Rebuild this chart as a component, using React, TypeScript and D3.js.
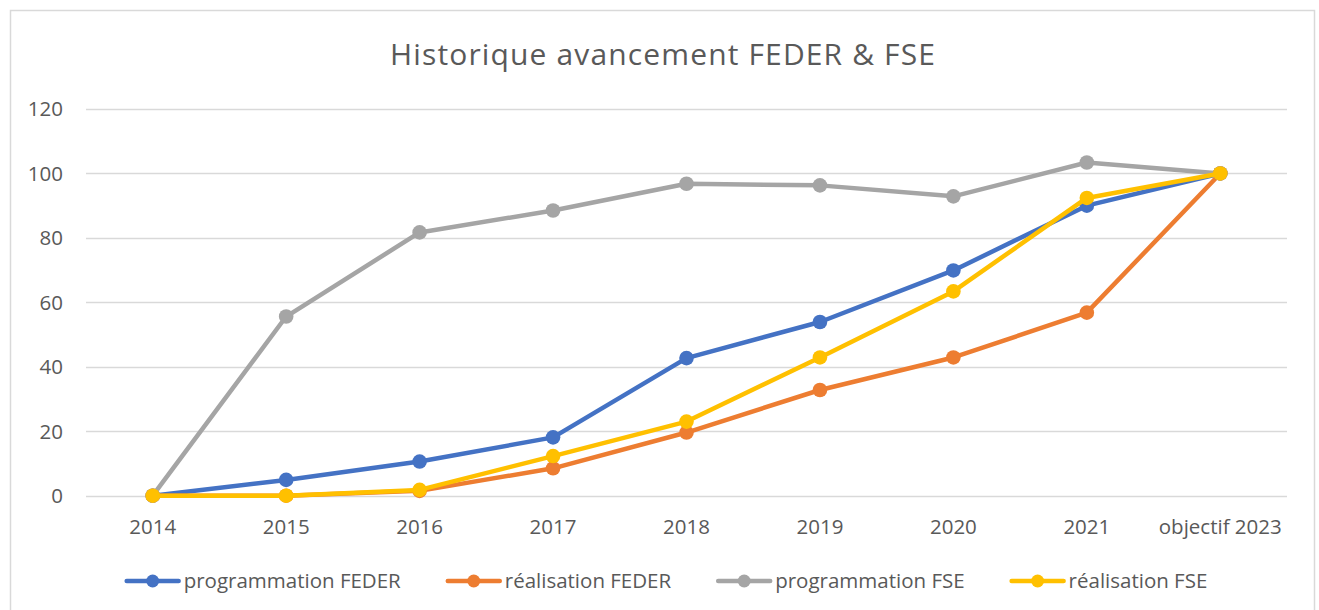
import React, { useEffect, useRef } from 'react';
import * as d3 from 'd3';

const categories = ['2014', '2015', '2016', '2017', '2018', '2019', '2020', '2021', 'objectif 2023'];
const programmationFeder = [0, 4.9, 10.6, 18.1, 42.7, 53.9, 69.9, 90.0, 100];
const realisationFeder = [0, 0, 1.5, 8.5, 19.6, 32.8, 42.9, 56.8, 100];
const programmationFse = [0, 55.6, 81.7, 88.5, 96.8, 96.3, 92.9, 103.4, 100];
const realisationFse = [0, 0, 1.8, 12.3, 23.0, 42.9, 63.4, 92.4, 100];
const yTicks = [0, 20, 40, 60, 80, 100, 120];

const seriesNames = ['programmation FEDER', 'réalisation FEDER', 'programmation FSE', 'réalisation FSE'];
const seriesColors = ['#4472C4', '#ED7D31', '#A5A5A5', '#FFC000'];
const seriesValues = [programmationFeder, realisationFeder, programmationFse, realisationFse];

const W = 1319;
const H = 610;
const FONT = '"Open Sans", sans-serif';
const TEXT = '#595959';

export default function App() {
  const svgRef = useRef<SVGSVGElement | null>(null);

  useEffect(() => {
    document.body.style.margin = '0';
    if (!svgRef.current) return;
    const svg = d3.select(svgRef.current);
    svg.selectAll('*').remove();

    svg.append('rect')
      .attr('x', 0).attr('y', 0).attr('width', W).attr('height', H)
      .attr('fill', '#fff');
    svg.append('rect')
      .attr('x', 10.5).attr('y', 10.5).attr('width', 1304).attr('height', 620)
      .attr('fill', '#fff').attr('stroke', '#D9D9D9').attr('stroke-width', 1.5);

    svg.append('text')
      .attr('x', 662.5).attr('y', 64.5)
      .attr('text-anchor', 'middle')
      .attr('font-family', FONT).attr('font-size', 30)
      .attr('textLength', 545).attr('lengthAdjust', 'spacing')
      .attr('fill', TEXT)
      .text('Historique avancement FEDER & FSE');

    const x = d3.scalePoint<string>().domain(categories).range([86, 1287]).padding(0.5);
    const y = d3.scaleLinear().domain([0, 120]).range([495.7, 109]);

    // gridlines
    svg.append('g')
      .selectAll('line')
      .data(yTicks)
      .enter()
      .append('line')
      .attr('x1', 86).attr('x2', 1287)
      .attr('y1', d => Math.round(y(d)) + 0.5)
      .attr('y2', d => Math.round(y(d)) + 0.5)
      .attr('stroke', '#D9D9D9').attr('stroke-width', 1.5);

    // y labels
    svg.append('g')
      .selectAll('text')
      .data(yTicks)
      .enter()
      .append('text')
      .attr('x', 63)
      .attr('y', d => y(d))
      .attr('dy', '0.36em')
      .attr('text-anchor', 'end')
      .attr('font-family', FONT).attr('font-size', 20.5)
      .attr('fill', TEXT)
      .text(d => String(d));

    // x labels
    svg.append('g')
      .selectAll('text')
      .data(categories)
      .enter()
      .append('text')
      .attr('x', d => x(d) as number)
      .attr('y', 534)
      .attr('text-anchor', 'middle')
      .attr('font-family', FONT).attr('font-size', 20.5)
      .attr('fill', TEXT)
      .text(d => d);

    const line = d3.line<number>()
      .x((_, i) => x(categories[i]) as number)
      .y(d => y(d));

    seriesValues.forEach((vals, si) => {
      const g = svg.append('g');
      g.append('path')
        .datum(vals)
        .attr('d', line)
        .attr('fill', 'none')
        .attr('stroke', seriesColors[si])
        .attr('stroke-width', 4.5)
        .attr('stroke-linejoin', 'round')
        .attr('stroke-linecap', 'round');
      g.selectAll('circle')
        .data(vals)
        .enter()
        .append('circle')
        .attr('cx', (_, i) => x(categories[i]) as number)
        .attr('cy', d => y(d))
        .attr('r', 7.3)
        .attr('fill', seriesColors[si]);
    });

    // legend
    const legend = svg.append('g');
    const lineLen = 56;
    const gapText = 3;
    const gapItem = 45;
    let cx = 0;
    seriesNames.forEach((name, si) => {
      const g = legend.append('g');
      g.append('line')
        .attr('x1', 2).attr('x2', lineLen - 2)
        .attr('y1', 0).attr('y2', 0)
        .attr('stroke', seriesColors[si]).attr('stroke-width', 4.5)
        .attr('stroke-linecap', 'round');
      g.append('circle')
        .attr('cx', lineLen / 2).attr('cy', 0).attr('r', 6.5)
        .attr('fill', seriesColors[si]);
      const t = g.append('text')
        .attr('x', lineLen + gapText).attr('y', 0).attr('dy', '0.36em')
        .attr('font-family', FONT).attr('font-size', 20.5)
        .attr('fill', TEXT)
        .text(name);
      const tw = (t.node() as SVGTextElement).getComputedTextLength();
      g.attr('transform', `translate(${cx},0)`);
      cx += lineLen + gapText + tw + gapItem;
    });
    const total = cx - gapItem;
    legend.attr('transform', `translate(${666 - total / 2},581)`);
  }, []);

  return <svg ref={svgRef} width={W} height={H} style={{ display: 'block' }} />;
}
